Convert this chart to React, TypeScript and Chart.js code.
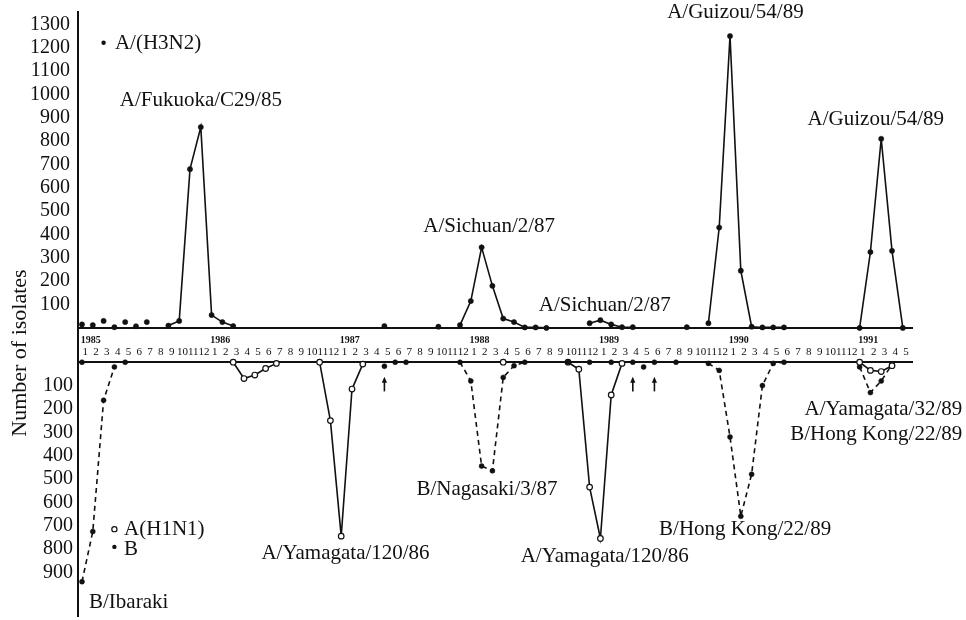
import React, { useEffect, useRef } from "react";
import { Chart, registerables } from "chart.js";

Chart.register(...registerables);

type Pt = [number, number];

const SERIF = "'Liberation Serif', 'DejaVu Serif', serif";

// Time axis: month index, 0 = January 1985 ... 76 = May 1991
const YEARS = ["1985", "1986", "1987", "1988", "1989", "1990", "1991"];
const MONTH_COUNT = 77;
const MONTH_LABELS = Array.from({ length: MONTH_COUNT }, (_, i) => String((i % 12) + 1));

const TOP_TICKS = [100, 200, 300, 400, 500, 600, 700, 800, 900, 1000, 1100, 1200, 1300];
const BOTTOM_TICKS = [100, 200, 300, 400, 500, 600, 700, 800, 900];

// ---- A/(H3N2), upper panel: [month, isolates] ----
const H3N2_SCATTERED: Pt[] = [
  [0, 15], [1, 12], [2, 30], [3, 3], [4, 25], [5, 7], [6, 25], [28, 8], [33, 5], [56, 3],
];
const H3N2_1985_86: Pt[] = [[8, 10], [9, 30], [10, 680], [11, 860], [12, 55], [13, 25], [14, 8]];
const H3N2_1987_88: Pt[] = [[35, 12], [36, 115], [37, 345], [38, 180], [39, 40], [40, 25], [41, 2], [42, 2], [43, 0]];
const H3N2_1988_89: Pt[] = [[47, 20], [48, 33], [49, 15], [50, 3], [51, 3]];
const H3N2_1989_90: Pt[] = [[58, 20], [59, 430], [60, 1250], [61, 245], [62, 5], [63, 2], [64, 2], [65, 2]];
const H3N2_1990_91: Pt[] = [[72, 0], [73, 325], [74, 810], [75, 330], [76, 0]];

// ---- A(H1N1), lower panel ----
const H1N1_SCATTERED: Pt[] = [[39, 0]];
const H1N1_1986: Pt[] = [[14, 0], [15, 70], [16, 55], [17, 27], [18, 5]];
const H1N1_1986_87: Pt[] = [[22, 0], [23, 250], [24, 745], [25, 115], [26, 8]];
const H1N1_1988_89: Pt[] = [[45, 0], [46, 30], [47, 535], [48, 755], [49, 140], [50, 5]];
const H1N1_1990_91: Pt[] = [[72, 0], [73, 35], [74, 40], [75, 15]];

// ---- B, lower panel ----
const B_SCATTERED: Pt[] = [
  [0, 0], [4, 0], [28, 17], [29, 0], [30, 0], [45, 0], [47, 0], [49, 0], [51, 0], [52, 20], [53, 0], [55, 0],
];
const B_1984_85: Pt[] = [[0, 940], [1, 725], [2, 163], [3, 20]];
const B_1987_88: Pt[] = [[35, 0], [36, 80], [37, 445], [38, 465], [39, 65], [40, 15], [41, 0]];
const B_1989_90: Pt[] = [[58, 5], [59, 35], [60, 320], [61, 660], [62, 480], [63, 100], [64, 5], [65, 0]];
const B_1990_91: Pt[] = [[72, 20], [73, 130], [74, 80], [75, 10]];

// months marked with an upward arrow under the lower axis
const ARROW_MONTHS = [28, 51, 53];

// strain annotations: anchor given in (month, isolates) of the panel
type Note = { text: string; month: number; value: number; align: CanvasTextAlign };
const TOP_NOTES: Note[] = [
  { text: "A/Fukuoka/C29/85", month: 11.0, value: 974, align: "center" },
  { text: "A/Sichuan/2/87", month: 37.7, value: 434, align: "center" },
  { text: "A/Sichuan/2/87", month: 48.4, value: 98, align: "center" },
  { text: "A/Guizou/54/89", month: 60.5, value: 1349, align: "center" },
  { text: "A/Guizou/54/89", month: 73.5, value: 894, align: "center" },
];
const BOTTOM_NOTES: Note[] = [
  { text: "B/Ibaraki", month: 0.65, value: 1030, align: "left" },
  { text: "A/Yamagata/120/86", month: 24.4, value: 821, align: "center" },
  { text: "B/Nagasaki/3/87", month: 37.5, value: 545, align: "center" },
  { text: "A/Yamagata/120/86", month: 48.4, value: 834, align: "center" },
  { text: "B/Hong Kong/22/89", month: 61.4, value: 715, align: "center" },
  { text: "A/Yamagata/32/89", month: 81.5, value: 204, align: "right" },
  { text: "B/Hong Kong/22/89", month: 81.5, value: 311, align: "right" },
];

const INK = "#111";

function line(pts: Pt[], yAxisID: string, kind: "h3" | "h1" | "b", showLine = true) {
  const base: any = {
    type: "line",
    data: pts.map(([x, y]) => ({ x, y })),
    xAxisID: "x",
    yAxisID,
    showLine,
    fill: false,
    tension: 0,
    borderColor: INK,
    borderWidth: 1.6,
    pointBorderColor: INK,
    pointHoverRadius: 0,
  };
  if (kind === "h3") {
    base.pointBackgroundColor = INK;
    base.pointRadius = 2.6;
    base.pointBorderWidth = 0.5;
  } else if (kind === "h1") {
    base.pointBackgroundColor = "#fff";
    base.pointRadius = 2.8;
    base.pointBorderWidth = 1.2;
  } else {
    base.pointBackgroundColor = INK;
    base.pointRadius = 2.5;
    base.pointBorderWidth = 0.5;
    base.borderDash = [5, 4];
  }
  return base;
}

const overlayPlugin = {
  id: "overlay",
  afterLayout(chart: any) {
    // the lower-panel axis shares the left margin of the plot with the upper one
    const s = chart.scales.yBot;
    if (s) {
      s.left = 0;
      s.right = chart.chartArea.left;
      s.width = chart.chartArea.left;
    }
  },
  afterDraw(chart: any) {
    const { ctx, scales } = chart;
    const x = scales.x;
    const yT = scales.yTop;
    const yB = scales.yBot;
    ctx.save();
    ctx.fillStyle = INK;
    ctx.strokeStyle = INK;
    ctx.textBaseline = "middle";
    ctx.font = `21px ${SERIF}`;
    for (const n of TOP_NOTES) {
      ctx.textAlign = n.align;
      ctx.fillText(n.text, x.getPixelForValue(n.month), yT.getPixelForValue(n.value));
    }
    for (const n of BOTTOM_NOTES) {
      ctx.textAlign = n.align;
      ctx.fillText(n.text, x.getPixelForValue(n.month), yB.getPixelForValue(n.value));
    }

    // legend entries
    ctx.textAlign = "left";
    const dot = (px: number, py: number, open: boolean) => {
      ctx.beginPath();
      ctx.arc(px, py, open ? 2.6 : 2.2, 0, Math.PI * 2);
      if (open) {
        ctx.fillStyle = "#fff";
        ctx.fill();
        ctx.lineWidth = 1.2;
        ctx.stroke();
        ctx.fillStyle = INK;
      } else {
        ctx.fill();
      }
    };
    dot(x.getPixelForValue(2.0), yT.getPixelForValue(1221), false);
    ctx.fillText("A/(H3N2)", x.getPixelForValue(3.05), yT.getPixelForValue(1217));
    dot(x.getPixelForValue(3.0), yB.getPixelForValue(715), true);
    ctx.fillText("A(H1N1)", x.getPixelForValue(3.9), yB.getPixelForValue(715));
    dot(x.getPixelForValue(3.0), yB.getPixelForValue(791), false);
    ctx.fillText("B", x.getPixelForValue(3.9), yB.getPixelForValue(804));

    // arrows
    ctx.lineWidth = 1.6;
    for (const m of ARROW_MONTHS) {
      const px = x.getPixelForValue(m);
      const tip = yB.getPixelForValue(62);
      const tail = yB.getPixelForValue(125);
      ctx.beginPath();
      ctx.moveTo(px, tail);
      ctx.lineTo(px, tip + 4);
      ctx.stroke();
      ctx.beginPath();
      ctx.moveTo(px, tip);
      ctx.lineTo(px - 2.6, tip + 6);
      ctx.lineTo(px + 2.6, tip + 6);
      ctx.closePath();
      ctx.fill();
    }

    // y axis title, centred on the strip between the two panels
    const mid = (yT.getPixelForValue(0) + yB.getPixelForValue(0)) / 2 + 8;
    ctx.translate(20, mid);
    ctx.rotate(-Math.PI / 2);
    ctx.textAlign = "center";
    ctx.font = `22px ${SERIF}`;
    ctx.fillText("Number of isolates", 0, 0);
    ctx.restore();
  },
};

const X_MIN = -0.37;
const X_MAX = 76.85;

export default function App() {
  const canvasRef = useRef<HTMLCanvasElement | null>(null);

  useEffect(() => {
    const canvas = canvasRef.current;
    if (!canvas) return;

    const monthTicks = MONTH_LABELS.map((_, i) => ({ value: i + 0.3 }));
    const yearTicks = YEARS.map((_, k) => ({ value: k * 12 + 0.8 }));

    const chart = new Chart(canvas, {
      type: "line",
      data: {
        datasets: [
          line(B_SCATTERED, "yBot", "b", false),
          line(H1N1_SCATTERED, "yBot", "h1", false),
          line(H3N2_SCATTERED, "yTop", "h3", false),
          line(H3N2_1985_86, "yTop", "h3"),
          line(H3N2_1987_88, "yTop", "h3"),
          line(H3N2_1988_89, "yTop", "h3"),
          line(H3N2_1989_90, "yTop", "h3"),
          line(H3N2_1990_91, "yTop", "h3"),
          line(H1N1_1986, "yBot", "h1"),
          line(H1N1_1986_87, "yBot", "h1"),
          line(H1N1_1988_89, "yBot", "h1"),
          line(H1N1_1990_91, "yBot", "h1"),
          line(B_1984_85, "yBot", "b"),
          line(B_1987_88, "yBot", "b"),
          line(B_1989_90, "yBot", "b"),
          line(B_1990_91, "yBot", "b"),
        ],
      },
      options: {
        animation: false,
        responsive: true,
        maintainAspectRatio: false,
        layout: { padding: { left: 0, top: 12, right: 54, bottom: 0 } },
        plugins: {
          legend: { display: false },
          tooltip: { enabled: false },
          title: { display: false },
        },
        scales: {
          x: {
            type: "linear",
            axis: "x",
            position: { yTop: 0 } as any,
            min: X_MIN,
            max: X_MAX,
            grid: { display: false, drawTicks: false },
            border: { display: true, width: 2, color: INK },
            afterBuildTicks: (axis: any) => {
              axis.ticks = monthTicks.map((t) => ({ ...t }));
            },
            ticks: {
              autoSkip: false,
              maxRotation: 0,
              minRotation: 0,
              padding: 18,
              color: INK,
              font: { family: SERIF, size: 11 },
              callback: (_v: any, i: number) => MONTH_LABELS[i],
            },
          },
          xYear: {
            type: "linear",
            axis: "x",
            position: { yTop: 0 } as any,
            min: X_MIN,
            max: X_MAX,
            grid: { display: false, drawTicks: false },
            border: { display: false },
            afterBuildTicks: (axis: any) => {
              axis.ticks = yearTicks.map((t) => ({ ...t }));
            },
            ticks: {
              autoSkip: false,
              maxRotation: 0,
              minRotation: 0,
              padding: 7,
              color: INK,
              font: { family: SERIF, size: 10, weight: "bold" },
              callback: (_v: any, i: number) => YEARS[i],
            },
          },
          xBot: {
            type: "linear",
            axis: "x",
            position: { yBot: 0 } as any,
            min: X_MIN,
            max: X_MAX,
            grid: { display: false, drawTicks: false },
            border: { display: true, width: 2, color: INK },
            ticks: { display: false },
          },
          yBot: {
            type: "linear",
            axis: "y",
            position: "left",
            reverse: true,
            min: -1500,
            max: 1087,
            grid: { display: false, drawTicks: false },
            border: { display: false },
            afterBuildTicks: (axis: any) => {
              axis.ticks = BOTTOM_TICKS.map((v) => ({ value: v }));
            },
            afterFit: (s: any) => {
              s.width = 0;
              s.paddingTop = 0;
              s.paddingBottom = 0;
            },
            ticks: {
              padding: 5,
              color: INK,
              font: { family: SERIF, size: 20 },
              callback: (v: any) => String(v),
            },
          },
          yTop: {
            type: "linear",
            axis: "y",
            position: "left",
            min: -1234,
            max: 1353,
            grid: { display: false, drawTicks: false },
            border: { display: true, width: 2, color: INK },
            afterBuildTicks: (axis: any) => {
              axis.ticks = TOP_TICKS.map((v) => ({ value: v }));
            },
            afterFit: (s: any) => {
              s.width = 78;
              s.paddingTop = 0;
              s.paddingBottom = 0;
            },
            ticks: {
              padding: 8,
              color: INK,
              font: { family: SERIF, size: 20 },
              callback: (v: any) => String(v),
            },
          },
        } as any,
      },
      plugins: [overlayPlugin],
    } as any);

    return () => chart.destroy();
  }, []);

  return (
    <div
      style={{
        position: "fixed",
        left: 0,
        top: 0,
        width: 966,
        height: 620,
        background: "#fff",
      }}
    >
      <canvas ref={canvasRef} />
    </div>
  );
}
